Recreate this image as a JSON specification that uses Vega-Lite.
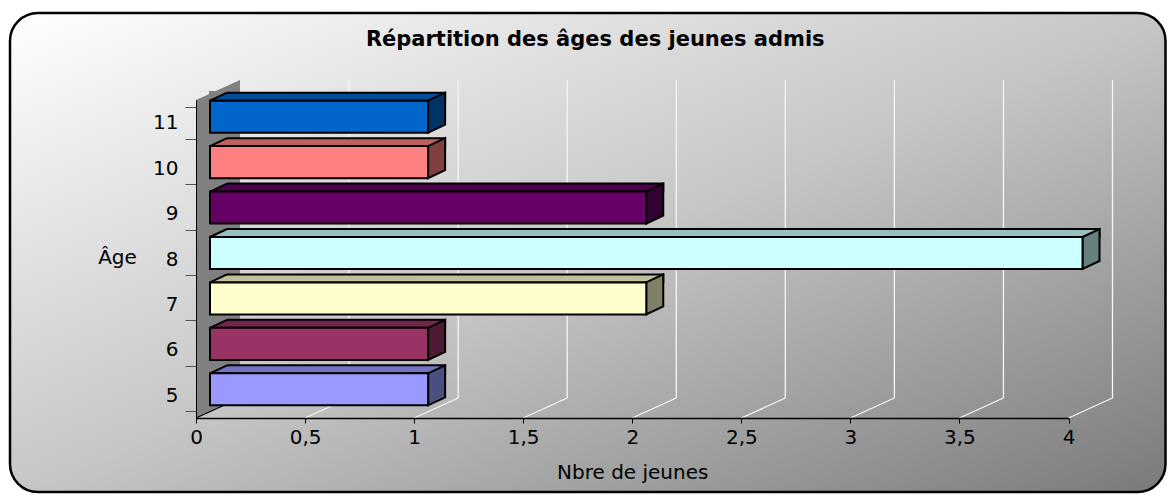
{
  "$schema": "https://vega.github.io/schema/vega-lite/v6.json",
  "width": 872.5,
  "height": 318,
  "autosize": {"type": "none"},
  "padding": {"left": 196, "top": 100, "right": 105.5, "bottom": 79},
  "background": "white",
  "title": {
    "text": "Répartition des âges des jeunes admis",
    "font": "DejaVu Sans",
    "fontSize": 21,
    "fontWeight": "bold",
    "color": "black",
    "anchor": "middle",
    "frame": "group",
    "dx": -37,
    "offset": -55,
    "baseline": "alphabetic"
  },
  "config": {
    "view": {"stroke": null},
    "axis": {"labelFont": "DejaVu Sans", "titleFont": "DejaVu Sans", "labelColor": "black", "titleColor": "black", "labelFontSize": 20, "titleFontSize": 20, "titleFontWeight": "normal", "grid": false}
  },
  "datasets": {
    "bars": [
      {"age": 5, "n": 1},
      {"age": 6, "n": 1},
      {"age": 7, "n": 2},
      {"age": 8, "n": 4},
      {"age": 9, "n": 2},
      {"age": 10, "n": 1},
      {"age": 11, "n": 1}
    ],
    "ticks": [
      {"v": 0}, {"v": 0.5}, {"v": 1}, {"v": 1.5}, {"v": 2}, {"v": 2.5}, {"v": 3}, {"v": 3.5}, {"v": 4}
    ],
    "one": [{"k": 1}]
  },
  "layer": [
    {
      "data": {"name": "one"},
      "mark": {
        "type": "rect",
        "x": 0, "x2": {"expr": "width + 97"}, "y": 0, "y2": {"expr": "height + 74"},
        "xOffset": -186, "yOffset": -87,
        "cornerRadius": 28,
        "stroke": "black",
        "strokeWidth": 2.5,
        "fill": {"gradient": "linear", "x1": 0, "y1": 0, "x2": 1, "y2": 1, "stops": [{"offset": 0, "color": "#ffffff"}, {"offset": 0.5, "color": "#c6c6c6"}, {"offset": 1, "color": "#7a7a7a"}]}
      },
      "encoding": {}
    },
    {
      "data": {"name": "one"},
      "mark": {"type": "point", "shape": "M0,0L0,-318L44,-338L44,-20Z", "size": 4, "filled": true, "color": "#808080", "opacity": 1, "strokeWidth": 0, "y": "height"},
      "encoding": {
        "x": {"datum": 0, "type": "quantitative", "scale": {"domain": [0, 4], "nice": false}, "axis": null}
      }
    },
    {
      "data": {"name": "ticks"},
      "transform": [{"filter": "datum.v > 0"}],
      "mark": {"type": "rule", "color": "#f6f6f6", "strokeWidth": 1.3, "xOffset": 44, "y": 0, "yOffset": -20, "y2": {"expr": "height - 20"}},
      "encoding": {
        "x": {"field": "v", "type": "quantitative", "scale": {"domain": [0, 4], "nice": false}, "axis": null}
      }
    },
    {
      "data": {"name": "ticks"},
      "mark": {"type": "point", "shape": "M0,0L44,-20", "size": 4, "filled": false, "opacity": 1, "strokeWidth": 1.3, "y": "height"},
      "encoding": {
        "x": {"field": "v", "type": "quantitative", "scale": {"domain": [0, 4], "nice": false}, "axis": null},
        "color": {"condition": {"test": "datum.v === 0", "value": "black"}, "value": "#f6f6f6"}
      }
    },
    {
      "data": {"name": "bars"},
      "mark": {"type": "bar", "height": 8, "yOffset": -26, "xOffset": 31, "x2Offset": 14, "stroke": "black", "strokeWidth": 2},
      "encoding": {
        "y": {"field": "age", "type": "ordinal", "sort": "descending", "scale": {"paddingInner": 0.294, "paddingOuter": 0.147}, "axis": null},
        "x": {"field": "n", "type": "quantitative", "stack": null, "scale": {"domain": [0, 4], "nice": false}, "axis": null},
        "x2": {"datum": 0},
        "fill": {"field": "age", "type": "ordinal", "legend": null, "scale": {"domain": [11, 10, 9, 8, 7, 6, 5], "range": ["#004D99", "#BF6060", "#4D004D", "#99BFBF", "#BFBF99", "#73264D", "#7373BF"]}}
      }
    },
    {
      "data": {"name": "bars"},
      "mark": {"type": "point", "shape": "M13,-22L14,-22L31,-30L31,-31.8L13,-31.8Z", "size": 4, "filled": true, "color": "#808080", "opacity": 1, "strokeWidth": 0},
      "encoding": {
        "y": {"field": "age", "type": "ordinal", "sort": "descending", "scale": {"paddingInner": 0.294, "paddingOuter": 0.147}, "axis": null},
        "x": {"datum": 0, "type": "quantitative", "scale": {"domain": [0, 4], "nice": false}, "axis": null}
      }
    },
    {
      "data": {"name": "bars"},
      "mark": {"type": "point", "shape": "M14,-22L31,-30", "size": 4, "filled": false, "color": "black", "opacity": 1, "strokeWidth": 2},
      "encoding": {
        "y": {"field": "age", "type": "ordinal", "sort": "descending", "scale": {"paddingInner": 0.294, "paddingOuter": 0.147}, "axis": null},
        "x": {"datum": 0, "type": "quantitative", "scale": {"domain": [0, 4], "nice": false}, "axis": null}
      }
    },
    {
      "data": {"name": "bars"},
      "mark": {"type": "point", "shape": "M14,-22L31,-30L31,2L14,10Z", "size": 4, "filled": true, "opacity": 1, "stroke": "black", "strokeWidth": 2},
      "encoding": {
        "y": {"field": "age", "type": "ordinal", "sort": "descending", "scale": {"paddingInner": 0.294, "paddingOuter": 0.147}, "axis": null},
        "x": {"field": "n", "type": "quantitative", "scale": {"domain": [0, 4], "nice": false}, "axis": null},
        "fill": {"field": "age", "type": "ordinal", "legend": null, "scale": {"domain": [11, 10, 9, 8, 7, 6, 5], "range": ["#003366", "#804040", "#330033", "#668080", "#808066", "#4D1A33", "#4D4D80"]}}
      }
    },
    {
      "data": {"name": "bars"},
      "mark": {"type": "bar", "xOffset": 14, "x2Offset": 14, "yOffset": -6, "y2Offset": -6, "stroke": "black", "strokeWidth": 2},
      "encoding": {
        "y": {
          "field": "age", "type": "ordinal", "sort": "descending",
          "scale": {"paddingInner": 0.294, "paddingOuter": 0.147},
          "axis": {"title": "Âge", "domain": true, "domainColor": "black", "domainWidth": 1, "ticks": true, "tickBand": "extent", "tickSize": 11, "tickColor": "#555555", "tickWidth": 1, "labelPadding": 7, "titleAngle": 0, "titleX": -79, "titleY": 157, "titleAlign": "center", "titleBaseline": "middle", "zindex": 1}
        },
        "x": {
          "field": "n", "type": "quantitative", "stack": null,
          "scale": {"domain": [0, 4], "nice": false},
          "axis": {"title": "Nbre de jeunes", "values": [0, 0.5, 1, 1.5, 2, 2.5, 3, 3.5, 4], "format": ".1~f", "labelExpr": "replace(datum.label, '.', ',')", "labelFlush": false, "labelOverlap": false, "domainColor": "black", "domainWidth": 1.5, "tickColor": "black", "tickSize": 5, "labelPadding": 4, "titleY": 54, "titleBaseline": "middle", "zindex": 1}
        },
        "x2": {"datum": 0},
        "fill": {"field": "age", "type": "ordinal", "legend": null, "scale": {"domain": [11, 10, 9, 8, 7, 6, 5], "range": ["#0066CC", "#FF8080", "#660066", "#CCFFFF", "#FFFFCC", "#993366", "#9999FF"]}}
      }
    }
  ],
  "resolve": {"scale": {"fill": "independent"}, "axis": {"x": "independent", "y": "independent"}}
}
